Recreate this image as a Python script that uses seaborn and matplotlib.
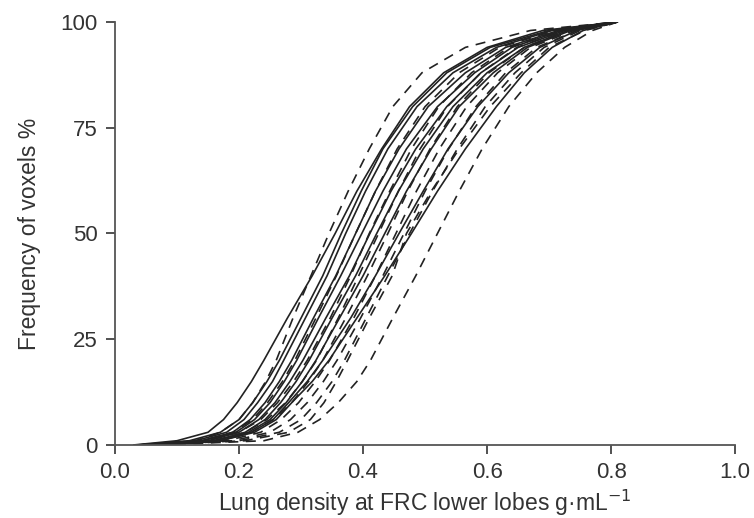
import pandas as pd
import matplotlib
matplotlib.use("Agg")
import matplotlib.pyplot as plt
import seaborn as sns

# cumulative frequency levels (%) shared by all curves
freq_levels = [0, 1, 3, 6, 10, 15, 20, 30, 40, 50, 60, 70, 80, 88, 94, 98, 100]

# lung density (g/mL) at each frequency level, solid curves
solid_curves = [
    [0.03, 0.10, 0.15, 0.175, 0.197, 0.22, 0.24, 0.278, 0.318, 0.355, 0.39, 0.43, 0.475, 0.53, 0.60, 0.69, 0.81],
    [0.035, 0.12, 0.17, 0.20, 0.222, 0.245, 0.265, 0.30, 0.335, 0.365, 0.397, 0.432, 0.48, 0.535, 0.605, 0.70, 0.81],
    [0.04, 0.13, 0.18, 0.208, 0.23, 0.254, 0.272, 0.307, 0.342, 0.372, 0.404, 0.44, 0.487, 0.545, 0.615, 0.705, 0.81],
    [0.04, 0.14, 0.19, 0.218, 0.242, 0.265, 0.285, 0.32, 0.356, 0.388, 0.42, 0.458, 0.505, 0.565, 0.63, 0.715, 0.80],
    [0.045, 0.14, 0.195, 0.225, 0.25, 0.273, 0.293, 0.328, 0.364, 0.398, 0.432, 0.47, 0.52, 0.58, 0.64, 0.72, 0.81],
    [0.05, 0.15, 0.20, 0.232, 0.258, 0.282, 0.303, 0.34, 0.378, 0.411, 0.445, 0.485, 0.535, 0.59, 0.65, 0.725, 0.81],
    [0.05, 0.16, 0.21, 0.242, 0.267, 0.292, 0.313, 0.35, 0.388, 0.422, 0.457, 0.497, 0.545, 0.60, 0.66, 0.73, 0.81],
    [0.055, 0.16, 0.215, 0.25, 0.276, 0.302, 0.324, 0.362, 0.40, 0.435, 0.47, 0.51, 0.555, 0.61, 0.665, 0.735, 0.81],
    [0.06, 0.17, 0.22, 0.255, 0.28, 0.31, 0.335, 0.38, 0.42, 0.458, 0.497, 0.537, 0.585, 0.635, 0.685, 0.745, 0.81],
    [0.06, 0.17, 0.225, 0.26, 0.285, 0.318, 0.345, 0.39, 0.435, 0.478, 0.52, 0.565, 0.615, 0.66, 0.705, 0.755, 0.81],
]

# dashed curves
dashed_curves = [
    [0.04, 0.13, 0.17, 0.20, 0.222, 0.243, 0.26, 0.287, 0.316, 0.345, 0.376, 0.41, 0.448, 0.495, 0.565, 0.67, 0.81],
    [0.04, 0.14, 0.19, 0.222, 0.246, 0.27, 0.29, 0.324, 0.357, 0.388, 0.42, 0.455, 0.50, 0.555, 0.62, 0.71, 0.81],
    [0.045, 0.15, 0.20, 0.235, 0.262, 0.288, 0.31, 0.347, 0.38, 0.41, 0.443, 0.478, 0.522, 0.575, 0.635, 0.72, 0.81],
    [0.05, 0.16, 0.21, 0.245, 0.275, 0.302, 0.325, 0.36, 0.393, 0.425, 0.457, 0.492, 0.536, 0.59, 0.648, 0.725, 0.81],
    [0.05, 0.17, 0.22, 0.255, 0.285, 0.312, 0.335, 0.372, 0.407, 0.44, 0.472, 0.508, 0.552, 0.603, 0.66, 0.73, 0.81],
    [0.055, 0.18, 0.235, 0.268, 0.296, 0.323, 0.346, 0.385, 0.42, 0.453, 0.486, 0.523, 0.567, 0.617, 0.67, 0.74, 0.81],
    [0.06, 0.19, 0.25, 0.283, 0.31, 0.336, 0.358, 0.396, 0.432, 0.466, 0.50, 0.538, 0.582, 0.63, 0.68, 0.745, 0.81],
    [0.06, 0.20, 0.265, 0.30, 0.325, 0.35, 0.37, 0.405, 0.44, 0.475, 0.512, 0.552, 0.597, 0.645, 0.692, 0.75, 0.81],
    [0.065, 0.21, 0.28, 0.315, 0.337, 0.357, 0.375, 0.41, 0.447, 0.47, 0.51, 0.555, 0.605, 0.655, 0.70, 0.758, 0.81],
    [0.07, 0.24, 0.295, 0.33, 0.36, 0.39, 0.412, 0.448, 0.485, 0.52, 0.555, 0.592, 0.635, 0.68, 0.725, 0.77, 0.81],
]

x_ticks = [0.0, 0.2, 0.4, 0.6, 0.8, 1.0]
y_ticks = [0, 25, 50, 75, 100]

rows = []
for i, xs in enumerate(solid_curves):
    for x, y in zip(xs, freq_levels):
        rows.append({"curve": f"s{i}", "kind": "solid", "density": x, "freq": y})
for i, xs in enumerate(dashed_curves):
    for x, y in zip(xs, freq_levels):
        rows.append({"curve": f"d{i}", "kind": "dashed", "density": x, "freq": y})
df = pd.DataFrame(rows)

sns.set_style("ticks")
plt.rcParams["font.family"] = ["Liberation Sans", "DejaVu Sans"]

fig = plt.figure(figsize=(7.54, 5.18), dpi=100)
ax = fig.add_axes([0.1525, 0.141, 0.8225, 0.8165])

sns.lineplot(data=df, x="density", y="freq", units="curve", estimator=None,
             style="kind", style_order=["solid", "dashed"],
             dashes={"solid": "", "dashed": (6, 4.5)},
             color="#222222", linewidth=1.2, sort=False, legend=False, ax=ax)

ax.set_xlim(0, 1.0)
ax.set_ylim(0, 100)
ax.set_xticks(x_ticks)
ax.set_xticklabels([f"{t:.1f}" for t in x_ticks])
ax.set_yticks(y_ticks)
ax.tick_params(axis="both", labelsize=16, colors="#333333", length=6.5, width=1.2, pad=6)
ax.set_xlabel("Lung density at FRC lower lobes g\u00b7mL$^{-1}$", fontsize=16.5,
              color="#333333", labelpad=3)
ax.set_ylabel("Frequency of voxels %", fontsize=16.5, color="#333333", labelpad=14)
sns.despine(ax=ax)
for s in ["left", "bottom"]:
    ax.spines[s].set_color("#555555")
    ax.spines[s].set_linewidth(1.3)

fig.savefig("out.png", dpi=100)
